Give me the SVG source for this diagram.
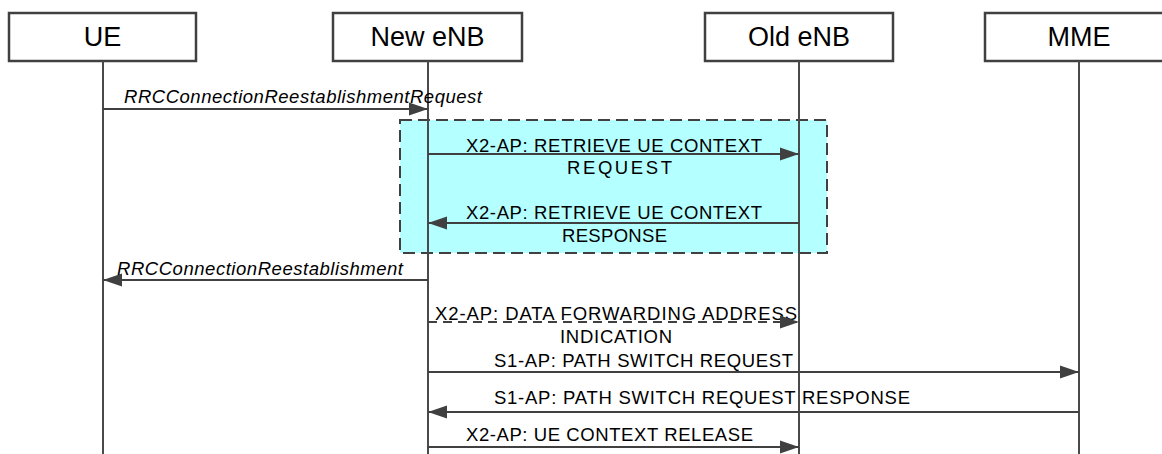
<svg xmlns="http://www.w3.org/2000/svg" width="1162" height="454" viewBox="0 0 1162 454">
<style>
.box{fill:#fff;stroke:#404040;stroke-width:2.5}
.life{stroke:#4a4a4a;stroke-width:2;fill:none}
.msg{stroke:#404040;stroke-width:2;fill:none}
.nt{font-family:"Liberation Sans",Arial,sans-serif;font-size:27px;fill:#000;text-anchor:middle}
.lb{font-family:"Liberation Sans",Arial,sans-serif;font-size:18.5px;fill:#000}
.it{font-style:italic}
</style>
<defs>
<marker id="ah" markerUnits="userSpaceOnUse" markerWidth="20" markerHeight="14" viewBox="0 0 20 14" refX="19" refY="7" orient="auto">
<path d="M0,0.5 L19,7 L0,13.5 Z" fill="#404040"/>
</marker>
</defs>
<rect id="frame" x="400" y="120" width="427" height="133" fill="#b4ffff" stroke="#404040" stroke-width="2" stroke-dasharray="12,6"/>
<g id="UE"><rect class="box" x="9" y="13" width="187" height="48"/><text class="nt" x="102.5" y="46">UE</text><line class="life" x1="103" y1="61" x2="103" y2="454"/></g>
<g id="NewENB"><rect class="box" x="333" y="13" width="189" height="48"/><text class="nt" x="427.5" y="46">New eNB</text><line class="life" x1="428" y1="61" x2="428" y2="454"/></g>
<g id="OldENB"><rect class="box" x="705" y="13" width="188" height="48"/><text class="nt" x="799" y="46">Old eNB</text><line class="life" x1="799" y1="61" x2="799" y2="454"/></g>
<g id="MME"><rect class="box" x="985" y="13" width="190" height="48"/><text class="nt" x="1079" y="46">MME</text><line class="life" x1="1079" y1="61" x2="1079" y2="454"/></g>
<g id="connectors">
<line class="msg" x1="103" y1="109" x2="428" y2="109" marker-end="url(#ah)"/>
<text class="lb it" x="124" y="103" textLength="358" lengthAdjust="spacing">RRCConnectionReestablishmentRequest</text>
<line class="msg" x1="428" y1="154" x2="799" y2="154" marker-end="url(#ah)"/>
<text class="lb" x="466" y="151.5" textLength="296" lengthAdjust="spacing">X2-AP: RETRIEVE UE CONTEXT</text>
<text class="lb" x="567" y="174" textLength="105" lengthAdjust="spacing">REQUEST</text>
<line class="msg" x1="799" y1="223" x2="428" y2="223" marker-end="url(#ah)"/>
<text class="lb" x="466" y="219" textLength="296" lengthAdjust="spacing">X2-AP: RETRIEVE UE CONTEXT</text>
<text class="lb" x="562" y="241.5" textLength="105" lengthAdjust="spacing">RESPONSE</text>
<line class="msg" x1="428" y1="280" x2="103" y2="280" marker-end="url(#ah)"/>
<text class="lb it" x="117" y="274.5" textLength="286" lengthAdjust="spacing">RRCConnectionReestablishment</text>
<text class="lb" x="435" y="319.5" textLength="362" lengthAdjust="spacing">X2-AP: DATA FORWARDING ADDRESS</text>
<line class="msg" x1="428" y1="322" x2="799" y2="322" stroke-dasharray="9,6" marker-end="url(#ah)"/>
<text class="lb" x="560" y="343" textLength="112" lengthAdjust="spacing">INDICATION</text>
<line class="msg" x1="428" y1="372" x2="1079" y2="372" marker-end="url(#ah)"/>
<text class="lb" x="494" y="367" textLength="299" lengthAdjust="spacing">S1-AP: PATH SWITCH REQUEST</text>
<line class="msg" x1="1079" y1="412" x2="428" y2="412" marker-end="url(#ah)"/>
<text class="lb" x="494" y="404" textLength="416" lengthAdjust="spacing">S1-AP: PATH SWITCH REQUEST RESPONSE</text>
<line class="msg" x1="428" y1="447" x2="799" y2="447" marker-end="url(#ah)"/>
<text class="lb" x="466" y="440.5" textLength="287" lengthAdjust="spacing">X2-AP: UE CONTEXT RELEASE</text>
</g>
</svg>
